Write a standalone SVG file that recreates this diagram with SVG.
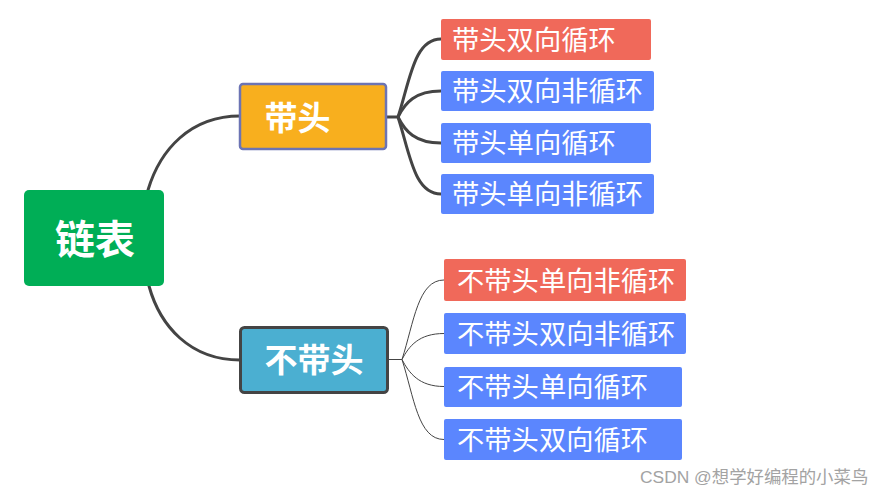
<svg xmlns="http://www.w3.org/2000/svg" width="881" height="495" viewBox="0 0 881 495">
<style>
.cjk{font-family:"Noto Sans CJK SC","Noto Sans",sans-serif;fill:#fff}
.big{font-weight:bold}
.leaf{font-size:27.3px}
.red{fill:#F0695A}
.blue{fill:#5B86FE}
.thick{fill:none;stroke:#444;stroke-width:3;stroke-linecap:round}
.thin{fill:none;stroke:#444;stroke-width:1}
</style>
<rect width="881" height="495" fill="#fff"/>
<g id="connectors">
<path class="thick" d="M148,190 C160,150 190,116 240,116"/>
<path class="thick" d="M149,286 C160,326 190,360 240,360"/>
<path class="thick" d="M387,117 L398,117"/>
<path class="thick" d="M398,117 C410,80 414,39 441,39"/>
<path class="thick" d="M398,117 C405,103 415,91 441,91"/>
<path class="thick" d="M398,117 C405,131 415,143 441,143"/>
<path class="thick" d="M398,117 C410,154 414,194 441,194"/>
<path class="thin" d="M389,359.5 L402,359.5"/>
<path class="thin" d="M402,359.5 C414,322 418,280 444,280"/>
<path class="thin" d="M402,359.5 C409,346 419,333.5 444,333.5"/>
<path class="thin" d="M402,359.5 C409,373 419,386.5 444,386.5"/>
<path class="thin" d="M402,359.5 C414,397 418,439.5 444,439.5"/>
</g>
<g id="root">
<rect x="24" y="190" width="140" height="96" rx="5" fill="#00AE56"/>
<text class="cjk big" x="95" y="253.5" font-size="40" text-anchor="middle">链表</text>
</g>
<g id="daitou">
<rect x="240" y="84" width="146" height="65" rx="3" fill="#F8AF1E" stroke="#6C74B4" stroke-width="2.5"/>
<text class="cjk big" x="297.5" y="130" font-size="33" text-anchor="middle">带头</text>
</g>
<g id="budaitou">
<rect x="240.5" y="327.5" width="147" height="65" rx="4" fill="#4BAFD1" stroke="#444" stroke-width="3"/>
<text class="cjk big" x="314" y="371.5" font-size="33" text-anchor="middle">不带头</text>
</g>
<g id="t1">
<rect class="red" x="441" y="19" width="210" height="41" rx="2"/>
<text class="cjk leaf" x="452" y="49.5">带头双向循环</text>
</g>
<g id="t2">
<rect class="blue" x="441" y="71" width="213" height="40" rx="2"/>
<text class="cjk leaf" x="452" y="101">带头双向非循环</text>
</g>
<g id="t3">
<rect class="blue" x="441" y="123" width="210" height="40" rx="2"/>
<text class="cjk leaf" x="452" y="153">带头单向循环</text>
</g>
<g id="t4">
<rect class="blue" x="441" y="174" width="213" height="40" rx="2"/>
<text class="cjk leaf" x="452" y="204">带头单向非循环</text>
</g>
<g id="b1">
<rect class="red" x="444" y="259" width="242" height="42" rx="2"/>
<text class="cjk leaf" x="457" y="290.5">不带头单向非循环</text>
</g>
<g id="b2">
<rect class="blue" x="444" y="313" width="242" height="41" rx="2"/>
<text class="cjk leaf" x="457" y="343.5">不带头双向非循环</text>
</g>
<g id="b3">
<rect class="blue" x="444" y="367" width="238" height="40" rx="2"/>
<text class="cjk leaf" x="457" y="397">不带头单向循环</text>
</g>
<g id="b4">
<rect class="blue" x="444" y="419" width="238" height="41" rx="2"/>
<text class="cjk leaf" x="457" y="449.5">不带头双向循环</text>
</g>
<text x="640" y="483" font-size="17.4" fill="#A3A3A3" font-family="'Liberation Sans','Noto Sans CJK SC',sans-serif">CSDN @想学好编程的小菜鸟</text>
</svg>
